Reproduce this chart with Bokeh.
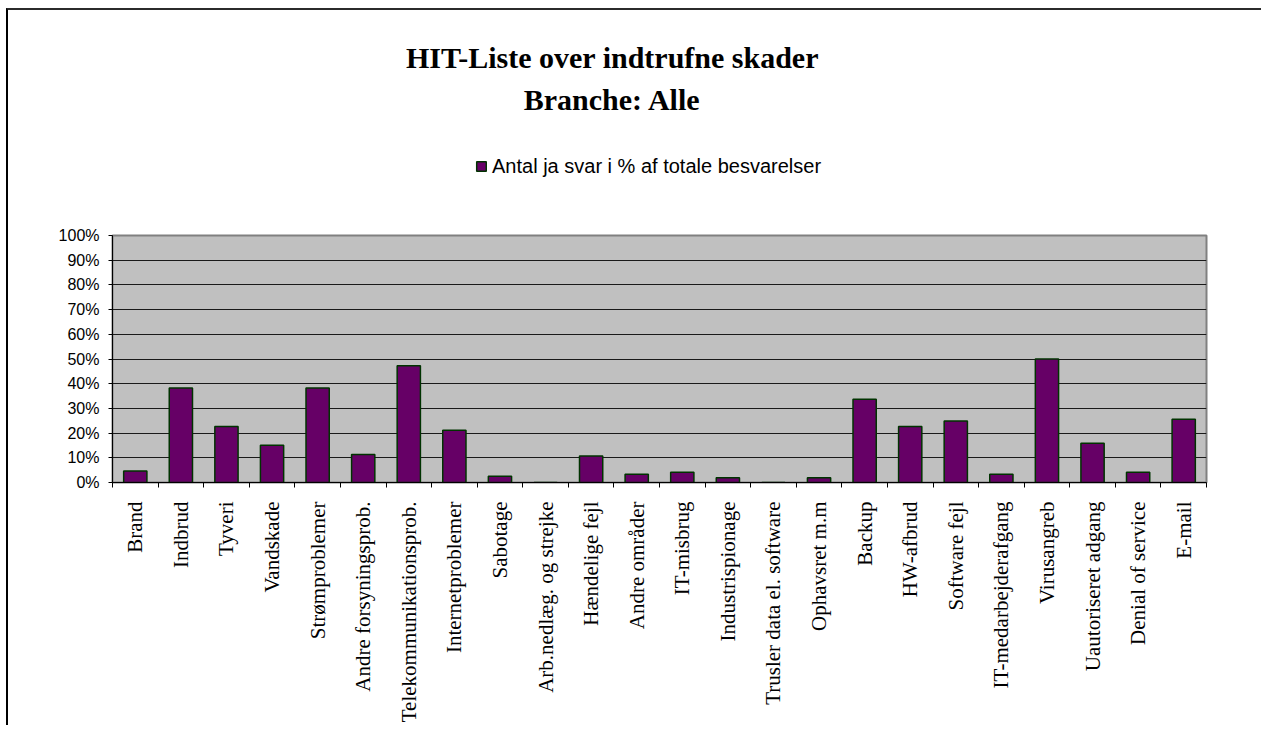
import math
from bokeh.plotting import figure
from bokeh.layouts import column
from bokeh.models import (ColumnDataSource, FixedTicker, Range1d, Label, Legend,
                          LegendItem)
from bokeh.embed import file_html
from bokeh.resources import INLINE

title_line1 = "HIT-Liste over indtrufne skader"
title_line2 = "Branche: Alle"
series_name = "Antal ja svar i % af totale besvarelser"

categories = [
    "Brand", "Indbrud", "Tyveri", "Vandskade", "Strømproblemer",
    "Andre forsyningsprob.", "Telekommunikationsprob.", "Internetproblemer",
    "Sabotage", "Arb.nedlæg. og strejke", "Hændelige fejl", "Andre områder",
    "IT-misbrug", "Industrispionage", "Trusler data el. software",
    "Ophavsret m.m", "Backup", "HW-afbrud", "Software fejl",
    "IT-medarbejderafgang", "Virusangreb", "Uautoriseret adgang",
    "Denial of service", "E-mail",
]
values = [4.7, 38.3, 22.7, 15.1, 38.3, 11.3, 47.3, 21.2, 2.5, 0.0, 10.7, 3.3,
          4.1, 1.9, 0.0, 1.9, 33.7, 22.7, 24.9, 3.3, 50.0, 15.9, 4.1, 25.6]
y_ticks = [0, 10, 20, 30, 40, 50, 60, 70, 80, 90, 100]
y_tick_labels = [f"{t}%" for t in y_ticks]

BAR_FILL = "#660066"
BAR_LINE = "#003300"

n = len(categories)
x_centers = [i + 0.5 for i in range(n)]
x_bounds = list(range(n + 1))

src = ColumnDataSource(dict(x=x_centers, top=values, cat=categories))

# ---------- header (titles + legend) ----------
HW, HH = 1253, 215
head = figure(width=HW, height=HH, x_range=Range1d(0, HW), y_range=Range1d(0, HH),
              title=None, output_backend="svg", toolbar_location=None,
              x_axis_type=None, y_axis_type=None,
              min_border=0, outline_line_color=None, frame_align=False,
              background_fill_color="white", border_fill_color="white")
head.grid.visible = False

head.add_layout(Label(x=604, y=168, text=title_line1, text_font="Liberation Serif",
                      text_font_style="bold", text_font_size="30px",
                      text_align="center", text_baseline="alphabetic",
                      text_color="black"))
head.add_layout(Label(x=604, y=126, text=title_line2, text_font="Liberation Serif",
                      text_font_style="bold", text_font_size="30px",
                      text_align="center", text_baseline="alphabetic",
                      text_color="black"))

# legend swatch: same series, hidden in the header (only its legend glyph shows)
swatch = head.vbar(x="x", top="top", width=0.51, source=src, visible=False,
                   fill_color=BAR_FILL, line_color=BAR_LINE, line_width=1.5)
legend = Legend(items=[LegendItem(label=series_name, renderers=[swatch])],
                location=(467, 47), orientation="horizontal",
                border_line_color=None, background_fill_alpha=0,
                inactive_fill_alpha=0,
                padding=0, margin=0, glyph_width=12, glyph_height=12,
                label_height=24, label_standoff=5,
                label_text_font="Liberation Sans", label_text_font_size="20px",
                label_text_color="black")
head.add_layout(legend)

# ---------- main chart ----------
p = figure(width=1253, height=500,
           x_range=Range1d(0, n), y_range=Range1d(0, 100),
           title=None, output_backend="svg", toolbar_location=None,
           frame_align=False,
           min_border_left=104, min_border_right=55,
           min_border_top=10, min_border_bottom=240,
           background_fill_color="#C0C0C0", border_fill_color="white",
           outline_line_color="#808080", outline_line_width=2)

r = p.vbar(x="x", top="top", width=0.51, source=src,
           fill_color=BAR_FILL, line_color=BAR_LINE, line_width=1.5)

xa = p.xaxis[0]
xa.ticker = FixedTicker(ticks=x_centers, minor_ticks=x_bounds)
xa.major_label_overrides = {c: lab for c, lab in zip(x_centers, categories)}
xa.major_tick_line_color = None
xa.major_tick_out = 0
xa.major_tick_in = 0
xa.minor_tick_out = 5
xa.minor_tick_in = 0
xa.minor_tick_line_color = "black"
xa.axis_line_color = "black"
xa.major_label_orientation = math.pi / 2
xa.major_label_text_font = "Liberation Serif"
xa.major_label_text_font_size = "21px"
xa.major_label_text_color = "black"
xa.major_label_standoff = 14

ya = p.yaxis[0]
ya.ticker = FixedTicker(ticks=y_ticks)
ya.major_label_overrides = {t: lab for t, lab in zip(y_ticks, y_tick_labels)}
ya.minor_tick_line_color = None
ya.major_tick_out = 4
ya.major_tick_in = 0
ya.major_tick_line_color = "black"
ya.axis_line_color = "black"
ya.major_label_text_font = "Liberation Sans"
ya.major_label_text_font_size = "16px"
ya.major_label_text_color = "black"
ya.major_label_standoff = 9

p.xgrid.visible = False
p.ygrid.ticker = FixedTicker(ticks=y_ticks)
p.ygrid.grid_line_color = "#1a1a1a"
p.ygrid.grid_line_width = 1

layout = column(head, p, spacing=0,
                styles={"border-top": "2px solid #2b2b2b",
                        "border-left": "2px solid #000000",
                        "margin-left": "6px", "margin-top": "8px"})

open("out.html", "w").write(file_html(layout, INLINE))
